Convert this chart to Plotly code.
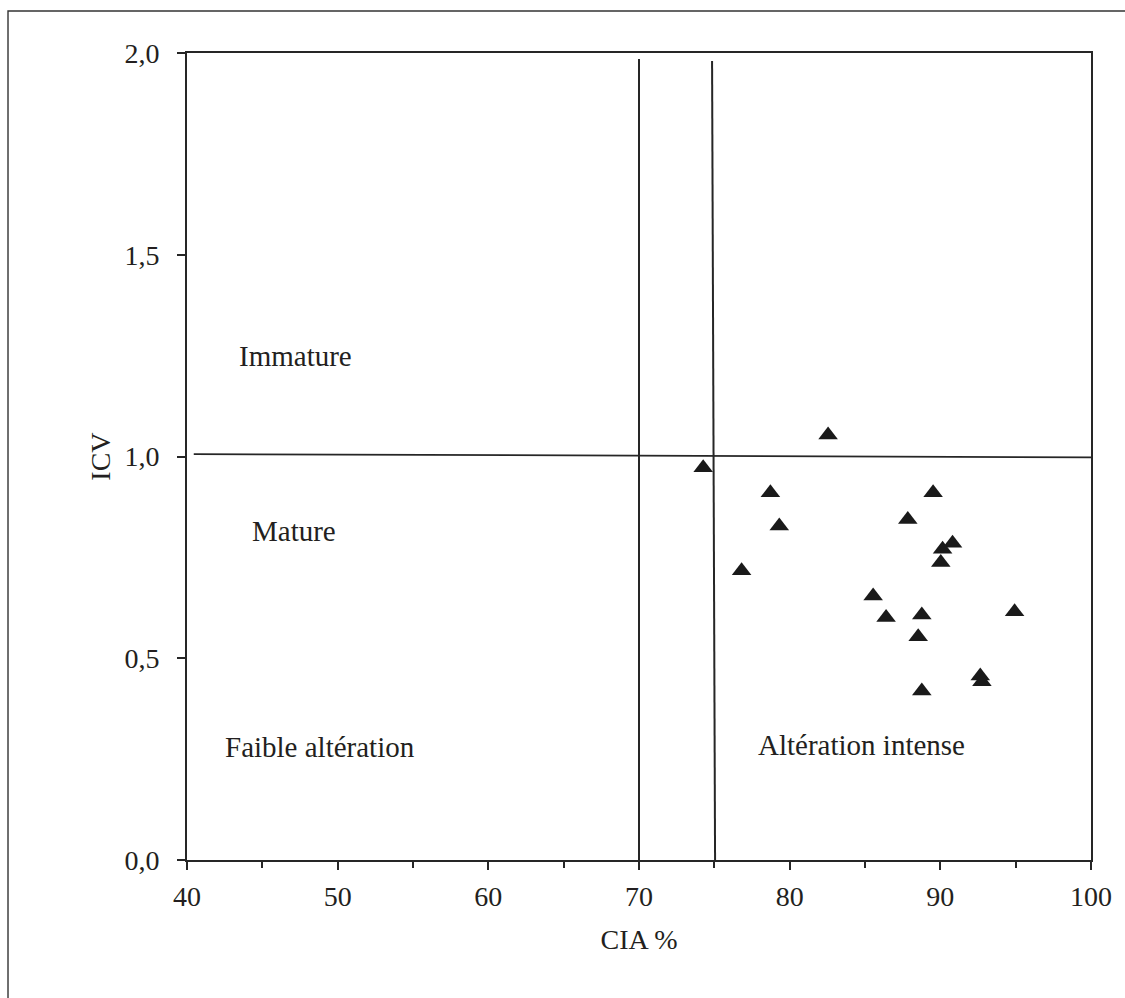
import plotly.graph_objects as go

# Data
cia = [82.55, 74.26, 78.72, 79.31, 76.81, 89.52, 87.84, 90.81, 90.15, 90.03,
       85.54, 86.40, 88.77, 88.53, 94.93, 92.65, 92.76, 88.77]
icv = [1.053, 0.972, 0.910, 0.828, 0.717, 0.910, 0.844, 0.785, 0.770, 0.737,
       0.654, 0.601, 0.607, 0.553, 0.615, 0.456, 0.442, 0.419]

x_ticks = [40, 50, 60, 70, 80, 90, 100]
y_ticks = [0.0, 0.5, 1.0, 1.5, 2.0]

zone_labels = ["Immature", "Mature", "Faible altération", "Altération intense"]
zone_x = [43.32, 44.19, 42.41, 77.74]
zone_y = [1.249, 0.815, 0.280, 0.285]

FONT = "Liberation Serif, Times New Roman, serif"
INK = "#231f20"
LINE = "#262626"

fig = go.Figure()
fig.add_trace(go.Scatter(
    x=cia, y=icv, mode="markers",
    marker=dict(symbol="triangle-up", size=17, color="#1a1a1a",
                line=dict(width=0)),
    showlegend=False, cliponaxis=False,
))

# Divider lines
fig.add_shape(type="line", x0=40.45, y0=1.006, x1=100.2, y1=0.998,
              line=dict(color=LINE, width=1.8), layer="below")
fig.add_shape(type="line", x0=70, y0=-0.03, x1=70, y1=1.985,
              line=dict(color=LINE, width=2), layer="below")
fig.add_shape(type="line", x0=74.85, y0=1.98, x1=75.05, y1=-0.015,
              line=dict(color=LINE, width=2), layer="below")

# Outer frame (right and bottom edges fall outside the picture)
fig.add_shape(type="rect", xref="paper", yref="paper",
              x0=-0.198, y0=-0.2, x1=1.06, y1=1.052,
              line=dict(color="#333333", width=1.4), fillcolor="rgba(0,0,0,0)")

for t, xx, yy in zip(zone_labels, zone_x, zone_y):
    fig.add_annotation(x=xx, y=yy, text=t, showarrow=False,
                       xanchor="left", yanchor="middle",
                       font=dict(family=FONT, size=29, color=INK))

axis_common = dict(
    showgrid=False, zeroline=False, showline=True, mirror=True,
    linecolor=LINE, linewidth=2, ticks="outside", ticklen=8, tickwidth=2,
    tickcolor=LINE, tickfont=dict(family=FONT, size=28, color=INK),
)

fig.update_xaxes(
    range=[40, 100], tickvals=x_ticks, ticktext=[str(v) for v in x_ticks],
    minor=dict(ticks="outside", ticklen=6, tickwidth=2, dtick=5, tickcolor=LINE),
    title=dict(text="CIA %", font=dict(family=FONT, size=28, color=INK), standoff=19),
    ticklabelstandoff=2,
    **axis_common,
)
fig.update_yaxes(
    range=[0, 2], tickvals=y_ticks, ticktext=[f"{v:.1f}".replace(".", ",") for v in y_ticks],
    title=dict(text="ICV", font=dict(family=FONT, size=28, color=INK), standoff=6),
    ticklabelstandoff=12,
    **axis_common,
)

fig.update_layout(
    width=1125, height=998,
    margin=dict(l=187, r=34, t=53, b=138, autoexpand=False),
    plot_bgcolor="white", paper_bgcolor="white",
    font=dict(family=FONT, color=INK),
    showlegend=False,
)

fig.write_html("out.html")
